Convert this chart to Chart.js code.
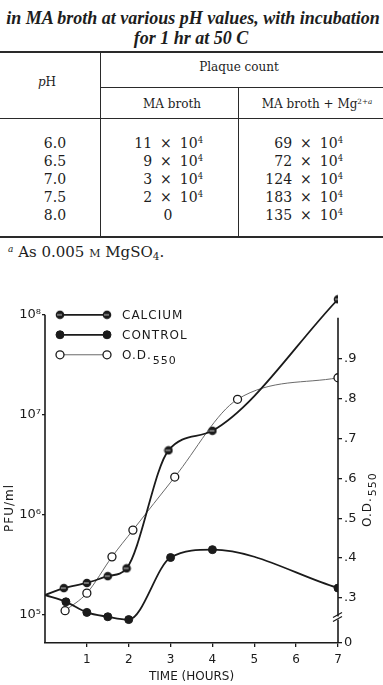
<!DOCTYPE html>
<html lang="en">
<head>
<meta charset="UTF-8">
<title>Plaque count and phage growth</title>
<script src="https://cdn.jsdelivr.net/npm/chart.js"></script>
<style>
  html, body { margin: 0; padding: 0; background: #fff; }
  body { width: 383px; height: 685px; position: relative; overflow: hidden; color: #1d1d1d; font-family: "DejaVu Serif", serif; }
  .t { position: absolute; white-space: nowrap; line-height: 1; }
  .c { transform: translate(-50%, -50%); }
  .r { transform: translateY(-50%); }
  .cap { font-family: "Liberation Serif", serif; font-style: italic; font-weight: bold; font-size: 18px; }
  .hd { font-size: 12px; }
  .num { font-size: 14px; }
  .foot { font-size: 15px; }
  .x { margin: 0 8px; }
  .hr { position: absolute; background: #2a2a2a; }
  sup { font-size: 0.6em; vertical-align: 0; position: relative; top: -0.6em; }
  sub { font-size: 0.7em; vertical-align: 0; position: relative; top: 0.25em; }
  #plot { position: absolute; left: 0; top: 280px; width: 383px; height: 405px; }
</style>
</head>
<body>
  <div class="t c cap" style="left:193px;top:18px">in MA broth at various pH values, with incubation</div>
  <div class="t c cap" style="left:191px;top:38px">for 1 hr at 50 C</div>

  <div class="hr" style="left:0;top:51px;width:383px;height:2px"></div>
  <div class="hr" style="left:100px;top:52px;width:1px;height:185px"></div>
  <div class="hr" style="left:101px;top:87px;width:282px;height:1px"></div>
  <div class="hr" style="left:238px;top:87px;width:1px;height:150px"></div>
  <div class="hr" style="left:0;top:118px;width:383px;height:1px"></div>
  <div class="hr" style="left:0;top:236px;width:383px;height:2px"></div>

  <div class="t c hd" style="left:239px;top:67px">Plaque count</div>
  <div class="t c hd" style="left:47px;top:82px"><i>p</i>H</div>
  <div class="t c hd" style="left:172px;top:104px">MA broth</div>
  <div class="t c hd" style="left:317px;top:104px">MA broth + Mg<sup>2+<i>a</i></sup></div>

  <div id="rows"></div>
  <div class="t foot" style="left:8px;top:245px"><sup><i>a</i></sup> As 0.005 <span style="font-variant:small-caps">m</span> MgSO<sub>4</sub>.</div>

  <div id="plot"><canvas id="growth"></canvas></div>

<script>
  // table
  const phValues = ['6.0', '6.5', '7.0', '7.5', '8.0'];
  const maBroth = [11, 9, 3, 2, 0];
  const maBrothMg = [69, 72, 124, 183, 135];
  const plaqueExp = 4;

  // figure
  const timeTicks = [1, 2, 3, 4, 5, 6, 7];
  const pfuTicks = [1e5, 1e6, 1e7, 1e8];
  const pfuTickLabels = ['10⁵', '10⁶', '10⁷', '10⁸'];
  const odTicks = [0.3, 0.4, 0.5, 0.6, 0.7, 0.8, 0.9];
  const odTickLabels = ['.3', '.4', '.5', '.6', '.7', '.8', '.9'];
  const odBreakValue = 0.187;   // foot of the broken O.D. axis
  const odBreakLabel = '0';

  const calciumHours = [0, 0.45, 1, 1.5, 1.95, 2.95, 4, 7];
  const calciumPfu = [1.57e5, 1.84e5, 2.07e5, 2.42e5, 2.9e5, 4.4e6, 6.9e6, 1.43e8];
  const controlHours = [0, 0.5, 1, 1.5, 2, 3, 4, 7];
  const controlPfu = [1.57e5, 1.34e5, 1.05e5, 9.5e4, 8.9e4, 3.72e5, 4.46e5, 1.84e5];
  const odHours = [0.48, 1, 1.6, 2.1, 3.1, 4.6, 7];
  const odValues = [0.268, 0.312, 0.403, 0.47, 0.603, 0.798, 0.852];

  function plaque(n) {
    if (n === 0) return '0';
    return `${n}<span class="x">×</span>10<sup>${plaqueExp}</sup>`;
  }

  let html = '';
  phValues.forEach((ph, i) => {
    const top = 143 + i * 18;
    html += `<div class="t c num" style="left:55px;top:${top}px">${ph}</div>`;
    if (maBroth[i] === 0) {
      html += `<div class="t c num" style="left:168px;top:${top}px">0</div>`;
    } else {
      html += `<div class="t r num" style="right:180px;top:${top}px">${plaque(maBroth[i])}</div>`;
    }
    html += `<div class="t r num" style="right:40px;top:${top}px">${plaque(maBrothMg[i])}</div>`;
  });
  document.getElementById('rows').innerHTML = html;

  const ink = '#1b1b1b';
  const sans = 'DejaVu Sans';

  function calciumDot() {
    const c = document.createElement('canvas');
    c.width = 10; c.height = 10;
    const g = c.getContext('2d');
    g.fillStyle = ink;
    g.beginPath(); g.arc(5, 5, 4.3, 0, Math.PI * 2); g.fill();
    g.fillStyle = '#c8c8c8';
    g.fillRect(2, 4.5, 5, 1);
    return c;
  }
  const halfDot = calciumDot();

  const pts = (xs, ys) => xs.map((x, i) => ({ x, y: ys[i] }));

  function drawMarker(ctx, ds, x, y) {
    if (typeof ds.pointStyle === 'object') {
      ctx.drawImage(ds.pointStyle, x - 5, y - 5);
      return;
    }
    ctx.beginPath();
    ctx.arc(x, y, 4, 0, Math.PI * 2);
    ctx.fillStyle = ds.pointBackgroundColor;
    ctx.fill();
    ctx.lineWidth = ds.pointBorderWidth;
    ctx.strokeStyle = ds.pointBorderColor;
    ctx.stroke();
  }

  // label like "O.D.550" -> base + lowered digits
  function drawLabel(ctx, text, x, y, size) {
    const m = text.match(/^(.*\.)(\d+)$/);
    ctx.font = `${size}px "${sans}"`;
    ctx.textBaseline = 'middle';
    if (!m) { ctx.fillText(text, x, y); return; }
    ctx.fillText(m[1], x, y);
    const w = ctx.measureText(m[1]).width;
    ctx.font = `${size - 1}px "${sans}"`;
    ctx.fillText(m[2], x + w + 1, y + 5);
  }

  const figureDecor = {
    id: 'figureDecor',
    afterDraw(chart) {
      const { ctx, chartArea: a, scales: { y, y2 } } = chart;
      const top = y.getPixelForValue(pfuTicks[pfuTicks.length - 1]);
      ctx.save();
      ctx.strokeStyle = ink;
      ctx.fillStyle = ink;
      ctx.lineWidth = 1.6;
      ctx.beginPath();
      ctx.moveTo(a.left, top); ctx.lineTo(a.left, a.bottom);
      ctx.moveTo(a.right, top + 3); ctx.lineTo(a.right, a.bottom);
      ctx.stroke();

      // axis break
      const brk = (a.bottom + y2.getPixelForValue(odTicks[0])) / 2 - 2;
      ctx.fillStyle = '#fff';
      ctx.fillRect(a.right - 2, brk - 2, 4, 3);
      ctx.lineWidth = 1.2;
      ctx.beginPath();
      ctx.moveTo(a.right - 5, brk - 1); ctx.lineTo(a.right + 4, brk - 6);
      ctx.moveTo(a.right - 5, brk + 3); ctx.lineTo(a.right + 4, brk - 2);
      ctx.stroke();

      // legend
      ctx.fillStyle = ink;
      ctx.letterSpacing = '1px';
      chart.data.datasets.forEach((ds, i) => {
        const ly = top + i * 20;
        const x0 = a.left + 15, x1 = a.left + 62;
        ctx.strokeStyle = ds.borderColor;
        ctx.lineWidth = ds.borderWidth;
        ctx.beginPath(); ctx.moveTo(x0, ly); ctx.lineTo(x1, ly); ctx.stroke();
        drawMarker(ctx, ds, x0, ly);
        drawMarker(ctx, ds, x1, ly);
        ctx.fillStyle = ink;
        drawLabel(ctx, ds.label, a.left + 77, ly + 1, 12);
      });

      // vertical axis titles
      ctx.textAlign = 'center';
      ctx.save();
      ctx.translate(10, a.bottom - 135);
      ctx.rotate(-Math.PI / 2);
      drawLabel(ctx, 'PFU/ml', 0, 0, 12);
      ctx.restore();
      ctx.save();
      ctx.translate(a.right + 30, a.bottom - 138);
      ctx.rotate(-Math.PI / 2);
      ctx.textAlign = 'left';
      drawLabel(ctx, 'O.D.550', -22, 0, 12);
      ctx.restore();
      ctx.restore();
    }
  };

  const tickFont = { family: sans, size: 12 };

  new Chart(document.getElementById('growth'), {
    type: 'line',
    data: {
      datasets: [
        {
          label: 'CALCIUM', data: pts(calciumHours, calciumPfu), yAxisID: 'y',
          borderColor: ink, borderWidth: 1.8, cubicInterpolationMode: 'monotone',
          pointStyle: halfDot, pointRadius: calciumHours.map(h => h === 0 ? 0 : 4)
        },
        {
          label: 'CONTROL', data: pts(controlHours, controlPfu), yAxisID: 'y',
          borderColor: ink, borderWidth: 1.8, cubicInterpolationMode: 'monotone',
          pointBackgroundColor: ink, pointBorderColor: ink, pointBorderWidth: 1,
          pointRadius: controlHours.map(h => h === 0 ? 0 : 4)
        },
        {
          label: 'O.D.550', data: pts(odHours, odValues), yAxisID: 'y2',
          borderColor: '#6a6a6a', borderWidth: 1, cubicInterpolationMode: 'monotone',
          pointBackgroundColor: '#fff', pointBorderColor: ink, pointBorderWidth: 1.3,
          pointRadius: 4
        }
      ]
    },
    options: {
      responsive: true,
      maintainAspectRatio: false,
      animation: false,
      events: [],
      layout: { padding: { top: 3.5, left: 0, right: 0, bottom: 0 } },
      plugins: { legend: { display: false }, tooltip: { enabled: false } },
      scales: {
        x: {
          type: 'linear', min: 0, max: 7,
          afterFit: s => { s.height = 42; },
          afterBuildTicks: s => { s.ticks = timeTicks.map(v => ({ value: v })); },
          grid: { drawOnChartArea: false, color: ink, tickLength: 4, lineWidth: 1.3 },
          border: { color: ink, width: 1.6 },
          ticks: { color: ink, font: tickFont, padding: 6, maxRotation: 0, autoSkip: false },
          title: { display: true, text: 'TIME (HOURS)', color: ink, font: tickFont, padding: { top: 0, bottom: 1 } }
        },
        y: {
          type: 'logarithmic', position: 'left', min: 10 ** 4.715, max: 10 ** 8.25,
          afterFit: s => { s.width = 45; },
          afterBuildTicks: s => { s.ticks = pfuTicks.map(v => ({ value: v })); },
          grid: { drawOnChartArea: false, color: ink, tickLength: 3, lineWidth: 1.3 },
          border: { display: false },
          ticks: {
            color: ink, font: { family: sans, size: 13 }, padding: 1, autoSkip: false,
            callback: v => pfuTickLabels[pfuTicks.indexOf(v)]
          }
        },
        y2: {
          type: 'linear', position: 'right', min: odBreakValue, max: 1.0725,
          afterFit: s => { s.width = 45; },
          afterBuildTicks: s => { s.ticks = [odBreakValue, ...odTicks].map(v => ({ value: v })); },
          grid: { drawOnChartArea: false, color: ink, tickLength: 4, lineWidth: 1.3 },
          border: { display: false },
          ticks: {
            color: ink, font: { family: sans, size: 13 }, padding: 2, autoSkip: false,
            callback: v => v === odBreakValue ? odBreakLabel : odTickLabels[odTicks.indexOf(v)]
          }
        }
      }
    },
    plugins: [figureDecor]
  });
</script>
</body>
</html>
